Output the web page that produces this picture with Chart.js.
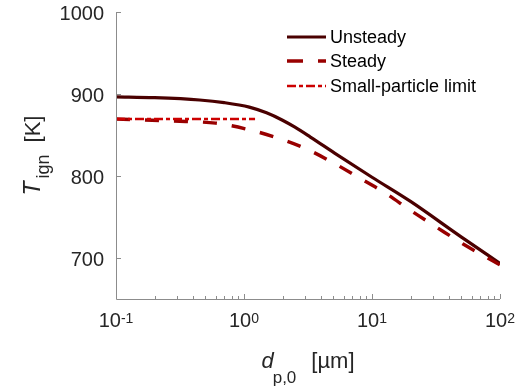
<!DOCTYPE html>
<html>
<head>
<meta charset="utf-8">
<script src="https://cdn.jsdelivr.net/npm/chart.js@4.4.0/dist/chart.umd.min.js"></script>
<style>
  html, body { margin: 0; padding: 0; background: #fff; }
</style>
</head>
<body>
<canvas id="chart" width="526" height="387"></canvas>
<script>
// values
const unsteadyD = [0.1, 0.2, 0.45, 0.7, 1.1, 1.5, 2, 2.5, 3.3, 5.1, 10, 20, 50, 100];
const unsteadyT = [896.5, 895.5, 892.7, 889.5, 884, 877, 868, 859.5, 847.5, 828, 798.5, 769, 725.5, 693.5];
const steadyD = [0.1, 0.35, 0.6, 1.03, 1.74, 2.98, 4.86, 7.9, 12.9, 20, 32, 51.5, 100];
const steadyT = [869.5, 866.5, 864.5, 857.5, 847.5, 834, 817, 798, 778.5, 758, 737.5, 717, 691.5];
const limitD = [0.1, 1.22];
const limitT = [869.5, 869.5];
const xTicks = [0.1, 1, 10, 100];
const xTickExp = ['-1', '0', '1', '2'];
const yTicks = [700, 800, 900, 1000];

const FONT = '"Liberation Sans", Arial, Helvetica, sans-serif';
const AXIS = '#8c8c8c';
const TEXT = '#262626';

const pts = (xs, ys) => xs.map((x, i) => ({ x: x, y: ys[i] }));

// minor tick positions on the log axis
const minorTicks = [];
[0.1, 1, 10].forEach(dec => {
  for (let k = 2; k <= 9; k++) minorTicks.push(dec * k);
});

const decorPlugin = {
  id: 'decor',
  afterDraw(chart) {
    const ctx = chart.ctx;
    const xs = chart.scales.x, ys = chart.scales.y;
    const a = chart.chartArea;
    ctx.save();

    // axes lines
    ctx.strokeStyle = AXIS;
    ctx.lineWidth = 1;
    ctx.setLineDash([]);
    ctx.beginPath();
    ctx.moveTo(a.left + 0.5, a.top);
    ctx.lineTo(a.left + 0.5, a.bottom + 0.5);
    ctx.lineTo(a.right, a.bottom + 0.5);
    ctx.stroke();

    // inward ticks
    ctx.beginPath();
    yTicks.forEach(v => {
      const y = Math.round(ys.getPixelForValue(v)) + 0.5;
      ctx.moveTo(a.left, y); ctx.lineTo(a.left + 5, y);
    });
    xTicks.forEach(v => {
      const x = Math.round(xs.getPixelForValue(v)) + 0.5;
      ctx.moveTo(x, a.bottom); ctx.lineTo(x, a.bottom - 5);
    });
    minorTicks.forEach(v => {
      const x = Math.round(xs.getPixelForValue(v)) + 0.5;
      ctx.moveTo(x, a.bottom); ctx.lineTo(x, a.bottom - 3);
    });
    ctx.stroke();

    // y tick labels
    ctx.fillStyle = TEXT;
    ctx.font = '20px ' + FONT;
    ctx.textAlign = 'right';
    ctx.textBaseline = 'middle';
    yTicks.forEach(v => {
      ctx.fillText(String(v), a.left - 12, ys.getPixelForValue(v) + 2.5);
    });

    // x tick labels with exponents
    ctx.textAlign = 'left';
    ctx.textBaseline = 'alphabetic';
    xTicks.forEach((v, i) => {
      ctx.font = '20px ' + FONT;
      const wb = ctx.measureText('10').width;
      ctx.font = '14px ' + FONT;
      const we = ctx.measureText(xTickExp[i]).width;
      const x0 = xs.getPixelForValue(v) - (wb + we) / 2;
      ctx.font = '20px ' + FONT;
      ctx.fillText('10', x0, a.bottom + 28);
      ctx.font = '14px ' + FONT;
      ctx.fillText(xTickExp[i], x0 + wb, a.bottom + 24);
    });

    const measure = (pieces) => {
      let w = 0;
      pieces.forEach(p => { ctx.font = p.f; p.w = ctx.measureText(p.t).width; w += p.w + p.gap; });
      return w;
    };

    // x title: d_{p,0} [µm]
    const xt = [
      { t: 'd', f: 'italic 22px ' + FONT, dy: 0, gap: -1 },
      { t: 'p,0', f: '17px ' + FONT, dy: 15, gap: 15 },
      { t: '[µm]', f: '22px ' + FONT, dy: 0, gap: 0 }
    ];
    const wx = measure(xt);
    let cx = (a.left + a.right) / 2 - wx / 2;
    xt.forEach(p => {
      ctx.font = p.f;
      ctx.fillText(p.t, cx, a.bottom + 69 + p.dy);
      cx += p.w + p.gap;
    });

    // y title: T_{ign} [K]
    const yt = [
      { t: 'T', f: 'italic 23px ' + FONT, dy: 0, gap: 3 },
      { t: 'ign', f: '18px ' + FONT, dy: 9, gap: 12 },
      { t: '[K]', f: '22px ' + FONT, dy: 0, gap: 0 }
    ];
    const wy = measure(yt);
    ctx.save();
    ctx.translate(40, (a.top + a.bottom) / 2 + wy / 2);
    ctx.rotate(-Math.PI / 2);
    let cy = 0;
    yt.forEach(p => {
      ctx.font = p.f;
      ctx.fillText(p.t, cy, p.dy);
      cy += p.w + p.gap;
    });
    ctx.restore();

    // legend
    const lx = a.left + 171, rows = [a.top + 25, a.top + 49, a.top + 74];
    chart.data.datasets.forEach((ds, i) => {
      const y = rows[i];
      ctx.strokeStyle = ds.borderColor;
      ctx.lineWidth = ds.borderWidth;
      ctx.setLineDash(ds.legendDash || []);
      ctx.beginPath();
      ctx.moveTo(lx, y); ctx.lineTo(lx + 39, y);
      ctx.stroke();
      ctx.setLineDash([]);
      ctx.fillStyle = '#000';
      ctx.font = '18px ' + FONT;
      ctx.textBaseline = 'middle';
      ctx.fillText(ds.label, lx + 43, y + 1);
    });
    ctx.restore();
  }
};

new Chart(document.getElementById('chart'), {
  type: 'line',
  data: {
    datasets: [
      {
        label: 'Unsteady',
        data: pts(unsteadyD, unsteadyT),
        borderColor: '#4a0000',
        borderWidth: 3.2,
        cubicInterpolationMode: 'monotone',
        pointRadius: 0,
        order: 3
      },
      {
        label: 'Steady',
        data: pts(steadyD, steadyT),
        borderColor: '#990000',
        borderWidth: 3.4,
        borderDash: [14, 15],
        legendDash: [16, 15],
        cubicInterpolationMode: 'monotone',
        pointRadius: 0,
        order: 2
      },
      {
        label: 'Small-particle limit',
        data: pts(limitD, limitT),
        borderColor: '#cc0000',
        borderWidth: 2.4,
        borderDash: [9, 3, 4, 3],
        legendDash: [9, 3, 4, 3],
        tension: 0,
        pointRadius: 0,
        order: 1
      }
    ]
  },
  options: {
    responsive: false,
    animation: false,
    devicePixelRatio: 1,
    layout: { padding: { top: 12, right: 26, left: 0, bottom: 0 } },
    plugins: {
      legend: { display: false },
      tooltip: { enabled: false }
    },
    scales: {
      x: {
        type: 'logarithmic',
        min: 0.1,
        max: 100,
        grid: { display: false },
        border: { display: false },
        ticks: { display: false },
        afterFit: s => { s.height = 88; }
      },
      y: {
        type: 'linear',
        min: 650,
        max: 1000,
        grid: { display: false },
        border: { display: false },
        ticks: { display: false },
        afterFit: s => { s.width = 116; }
      }
    }
  },
  plugins: [decorPlugin]
});
</script>
</body>
</html>
